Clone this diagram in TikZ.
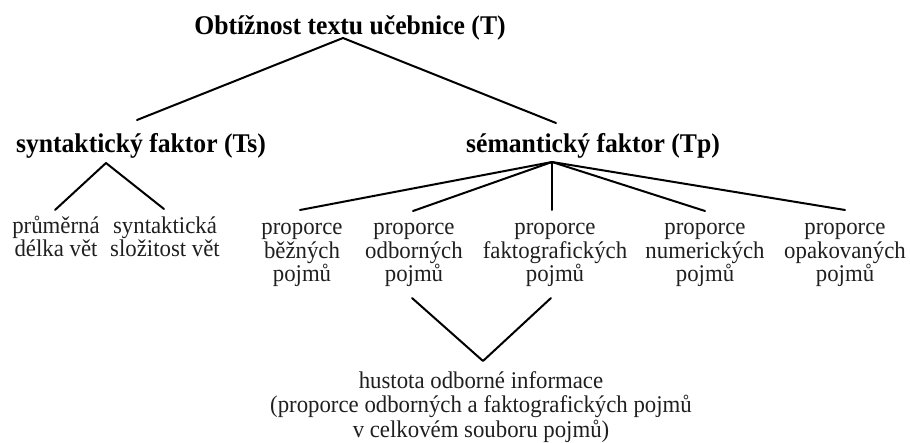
\documentclass[tikz,border=0pt]{standalone}
\usepackage{fontspec}
\setmainfont[FakeStretch=0.95]{Liberation Serif}
\begin{document}
\begin{tikzpicture}[x=1pt,y=-1pt,
  lbl/.style={font=\fontsize{24}{23.5}\selectfont, align=center, anchor=base, inner sep=0pt, text=black!88},
  head/.style={font=\fontsize{27}{30}\selectfont\bfseries, anchor=base, inner sep=0pt},
  conn/.style={line width=2pt, line cap=round, line join=round}]
\useasboundingbox (0,0) rectangle (910,443);
% headings
\node[head] (T)  at (350,35)  {Obtížnost textu učebnice (T)};
\node[head] (Ts) at (141,153) {syntaktický faktor (Ts)};
\node[head] (Tp) at (593,153) {sémantický faktor (Tp)};
% syntactic children (anchor = baseline of last line)
\node[lbl] (s1) at (56,257)  {průměrná\\délka vět};
\node[lbl] (s2) at (165,257) {syntaktická\\složitost vět};
% semantic children
\node[lbl] (p1) at (302,282) {proporce\\běžných\\pojmů};
\node[lbl] (p2) at (414,282) {proporce\\odborných\\pojmů};
\node[lbl] (p3) at (555,282) {proporce\\faktografických\\pojmů};
\node[lbl] (p4) at (705,282) {proporce\\numerických\\pojmů};
\node[lbl] (p5) at (845,282) {proporce\\opakovaných\\pojmů};
% bottom
\node[lbl, font=\fontsize{24}{24.5}\selectfont] (H) at (481,437)
  {hustota odborné informace\\(proporce odborných a faktografických pojmů\\v celkovém souboru pojmů)};
% connector points
\coordinate (Tapex) at (343,38);
\coordinate (TsTop) at (137,120);
\coordinate (TpTop) at (556,123);
\coordinate (TsBot) at (106,163);
\coordinate (s1Top) at (55,210);
\coordinate (s2Top) at (164,209);
\coordinate (TpBot) at (552,162);
\coordinate (p1Top) at (300,210);
\coordinate (p2Top) at (413,211);
\coordinate (p3Top) at (552,210);
\coordinate (p4Top) at (705,211);
\coordinate (p5Top) at (845,210);
\coordinate (p2Bot) at (412,298);
\coordinate (p3Bot) at (551,298);
\coordinate (HTop)  at (483,361);
% connectors
\draw[conn] (TsTop) -- (Tapex) -- (TpTop);
\draw[conn] (s1Top) -- (TsBot) -- (s2Top);
\draw[conn] (TpBot) -- (p1Top);
\draw[conn] (TpBot) -- (p2Top);
\draw[conn] (TpBot) -- (p3Top);
\draw[conn] (TpBot) -- (p4Top);
\draw[conn] (TpBot) -- (p5Top);
\draw[conn] (p2Bot) -- (HTop) -- (p3Bot);
\end{tikzpicture}
\end{document}
